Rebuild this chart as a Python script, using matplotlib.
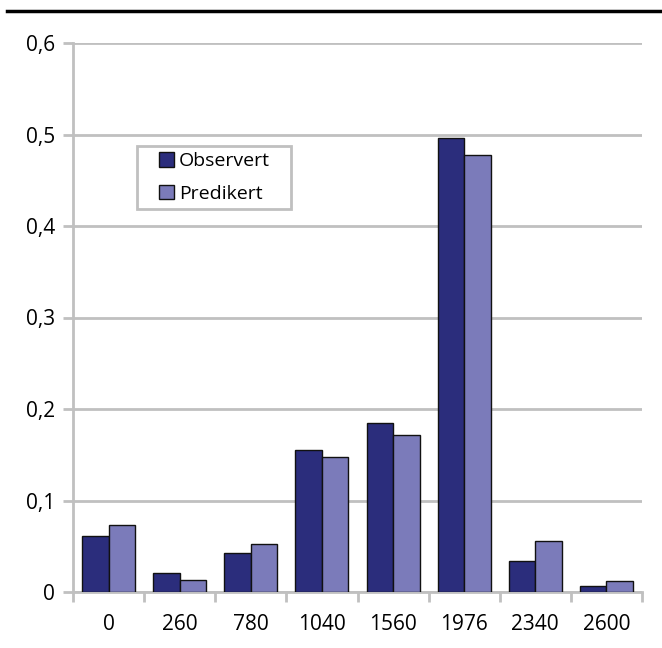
import numpy as np
import matplotlib
matplotlib.use("Agg")
import matplotlib.pyplot as plt
from matplotlib.lines import Line2D
from matplotlib.patches import Rectangle

plt.rcParams['font.family'] = ['Open Sans', 'DejaVu Sans']

categories = ['0', '260', '780', '1040', '1560', '1976', '2340', '2600']
observert = [0.061, 0.021, 0.043, 0.155, 0.185, 0.496, 0.034, 0.007]
predikert = [0.073, 0.013, 0.052, 0.147, 0.172, 0.478, 0.056, 0.012]
yticks = [0, 0.1, 0.2, 0.3, 0.4, 0.5, 0.6]
ytick_labels = ['0', '0,1', '0,2', '0,3', '0,4', '0,5', '0,6']

col_obs = '#2b2d7c'
col_pred = '#7b7bba'
grid_col = '#c0c0c0'
fs = 15

fig = plt.figure(figsize=(6.62, 6.48), dpi=100)
ax = fig.add_axes([73 / 662, 1 - 592 / 648, 569 / 662, 549 / 648])

x = np.arange(len(categories))
w = 0.373
ax.bar(x - w / 2, observert, w, color=col_obs, edgecolor='#111111', linewidth=1.0,
       label='Observert', zorder=3)
ax.bar(x + w / 2, predikert, w, color=col_pred, edgecolor='#111111', linewidth=1.0,
       label='Predikert', zorder=3)

ax.set_xlim(-0.5, len(categories) - 0.5)
ax.set_ylim(0, 0.6)
ax.set_yticks(yticks)
ax.set_yticklabels(ytick_labels)
ax.yaxis.grid(True, color=grid_col, linewidth=2, zorder=0)

# category boundaries as x ticks, labels centred under the groups
ax.set_xticks(np.arange(len(categories) + 1) - 0.5)
ax.set_xticklabels([])
ax.set_xticks(x, minor=True)
ax.set_xticklabels(categories, minor=True)
ax.tick_params(axis='x', which='major', length=7, width=2, color=grid_col, direction='out')
ax.tick_params(axis='x', which='minor', length=0, pad=16, labelsize=fs)
ax.tick_params(axis='y', length=7, width=2, color=grid_col, direction='out', pad=6,
               labelsize=fs)

for side in ['top', 'right']:
    ax.spines[side].set_visible(False)
for side in ['left', 'bottom']:
    ax.spines[side].set_color(grid_col)
    ax.spines[side].set_linewidth(2)

# legend box drawn separately so its padding can be set freely
leg = ax.legend(loc='upper left', bbox_to_anchor=(0.152, 0.801), fontsize=fs - 1,
                frameon=False, handlelength=0.75, handleheight=0.75,
                handletextpad=0.25, borderpad=0, labelspacing=0.75, borderaxespad=0)
for h in leg.legend_handles:
    h.set_linewidth(1.0)
    h.set_edgecolor('#111111')
box = Rectangle((137 / 569 - 73 / 569, (592 - 209) / 549), 154 / 569, 63 / 549,
                transform=ax.transAxes, facecolor='white', edgecolor=grid_col,
                linewidth=2, zorder=4)
ax.add_patch(box)
leg.set_zorder(5)

# rule under the heading
fig.add_artist(Line2D([7 / 662, 1], [1 - 11 / 648, 1 - 11 / 648], color='black', linewidth=2.5))

fig.savefig('out.png', dpi=100)
